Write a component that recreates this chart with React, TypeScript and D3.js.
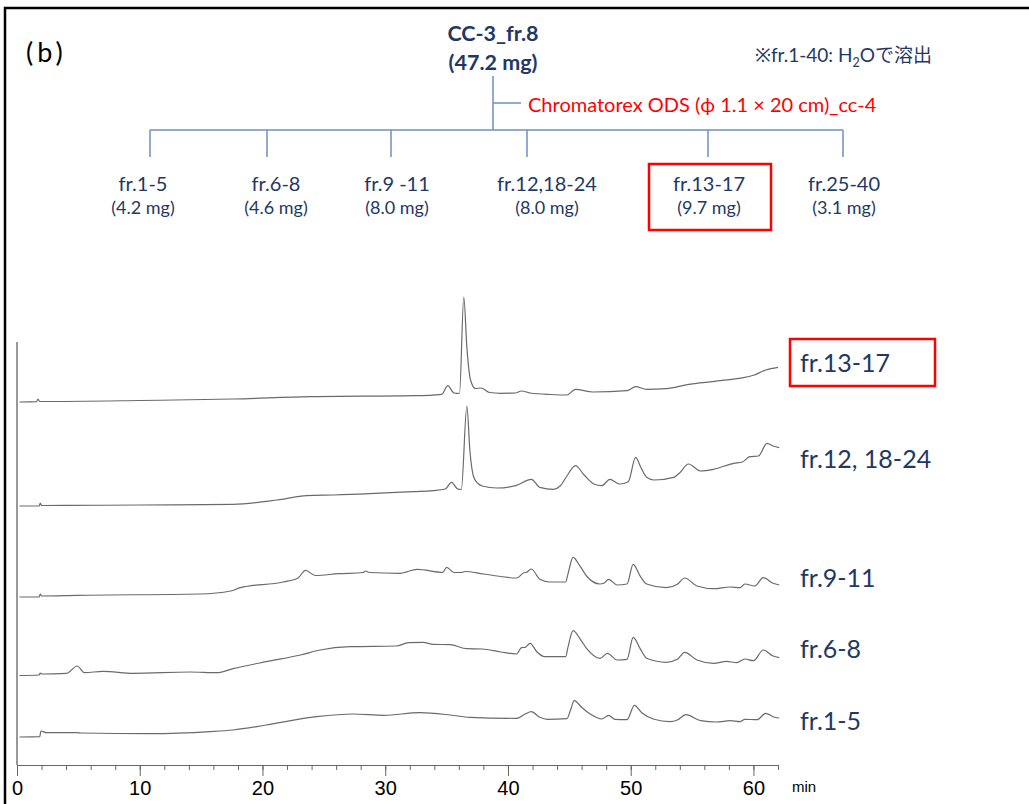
import React, { useRef, useEffect } from "react";
import * as d3 from "d3";

const W = 1029;
const H = 804;

// retention time (min) vs detector signal, relative to each trace's own baseline
const fr13_17: [number, number][] = [
  [0.2, 0], [1.6, 0.3], [1.7, 3], [1.85, 0.5], [10, 1.5], [17.6, 3], [23.9, 5.3], [32.3, 6.3],
  [34.6, 7.7], [35.1, 16.3], [35.6, 9], [36.05, 8.5], [36.4, 105], [36.65, 55], [36.95, 22],
  [37.35, 13.5], [37.8, 14], [38.5, 9.5], [39.4, 8.7], [40.6, 9], [41.1, 11], [41.8, 9],
  [43.5, 7.5], [44.8, 7], [45.5, 12.7], [46.9, 10], [49.7, 11.3], [50.4, 15.3], [51.3, 12.7],
  [52.9, 13.3], [54.6, 17.3], [57.3, 21.3], [60, 26.7], [61, 32], [62, 34.7],
];
const fr12_18_24: [number, number][] = [
  [0.2, 0], [1.8, 0], [1.9, 3], [2.0, 0.5], [10, 1], [17.6, 1.7], [21.2, 6], [23.6, 10.3],
  [25.8, 11], [32.3, 14.3], [33.9, 15.3], [34.9, 17], [35.4, 23.7], [35.9, 17], [36.2, 16.5],
  [36.65, 100], [36.9, 55], [37.2, 29.3], [37.6, 22], [37.9, 20], [39.1, 18], [40.7, 20.7],
  [41.9, 26.7], [42.6, 18.7], [43.7, 16.7], [44.25, 20], [44.8, 30], [45.5, 40.3], [46.2, 31],
  [47.0, 22], [47.65, 20.3], [48.3, 26.7], [49.1, 22], [49.8, 24.3], [50.4, 48.7], [50.8, 39.3],
  [51.3, 28.7], [51.9, 26], [53.5, 28.7], [54.0, 33.3], [54.7, 42], [55.7, 35], [56.75, 36.7],
  [58.4, 42.7], [59.1, 44], [59.7, 49.3], [60.4, 50], [61.1, 62.7], [61.6, 60], [62.1, 58.3],
];
const fr9_11: [number, number][] = [
  [0.2, 0], [1.8, 0], [1.9, 3], [2.0, 1], [4.9, 1.7], [14.9, 3], [17.4, 6], [18.2, 9.3],
  [21.7, 15], [22.9, 19], [23.5, 26.7], [24.3, 21.5], [26.2, 23.3], [28.2, 24.5], [28.4, 26],
  [28.7, 24.5], [31.2, 23.7], [32.6, 27.7], [34.7, 24.7], [35.0, 29.7], [35.6, 24.5], [36.2, 24.5],
  [36.5, 25.5], [38, 23], [40.7, 19], [41.3, 24.3], [41.5, 24.7], [41.9, 28], [42.6, 17.7],
  [43.4, 15], [44.7, 15], [44.9, 23.7], [45.3, 39.7], [45.9, 30.3], [46.4, 21], [47.5, 13],
  [47.8, 13.7], [48.2, 17.7], [48.9, 12], [49.7, 13], [50.2, 32.7], [50.8, 20.3], [51.3, 13],
  [52.9, 9.3], [53.8, 12.7], [54.4, 19], [55.4, 11], [56.75, 8.3], [58.1, 10], [58.9, 9.3],
  [59.3, 13], [60.1, 11], [60.8, 19.3], [61.6, 13.7], [62.1, 12],
];
const fr6_8: [number, number][] = [
  [0.2, 0.5], [1.8, 1], [1.9, 3], [2.0, 2], [4.05, 2.7], [4.9, 10], [5.5, 3.3], [7.0, 4.7],
  [9.5, 2.7], [14.1, 4], [16.3, 3.3], [17.6, 7.3], [20.3, 14.3], [23.1, 21], [24.7, 26],
  [27.1, 29.3], [30.9, 30], [31.9, 33.3], [33.1, 33.7], [33.9, 31.7], [35.3, 31.3], [36.65, 27.3],
  [37.9, 27], [39.4, 24], [40.7, 22], [41.1, 28.3], [41.4, 28.7], [41.8, 32.7], [42.35, 24.3],
  [43.0, 19.3], [44.7, 19.3], [44.9, 29.3], [45.3, 45.3], [45.9, 36.7], [46.4, 27.7], [47.5, 17.7],
  [48.1, 22.7], [48.9, 16], [49.7, 16.7], [50.2, 38.7], [50.8, 26.7], [51.3, 17.7], [52.9, 13.7],
  [53.8, 16.7], [54.4, 23.7], [55.4, 16], [56.75, 12.7], [57.8, 14.7], [58.65, 13.3], [59.3, 17],
  [60.0, 15.3], [60.8, 26], [61.6, 20], [62.1, 18.3],
];
const fr1_5: [number, number][] = [
  [0.2, 0], [1.85, 0.3], [1.95, 6], [2.4, 4.3], [4.9, 4.3], [5.2, 4], [10.8, 3.3], [15.7, 5.3],
  [17.6, 7], [20.3, 12], [24.4, 20.3], [27.4, 23], [29.9, 21.7], [32.8, 24.3], [35.3, 22],
  [36.9, 19.7], [40.7, 18.7], [41.4, 23], [41.9, 25.3], [42.6, 19.7], [43.2, 17.7], [44.8, 18.3],
  [45.1, 27], [45.4, 36.3], [46.0, 29.7], [46.7, 23], [47.65, 18], [48.2, 21.7], [48.7, 17.7],
  [49.7, 17.3], [50.3, 31.7], [50.9, 24.3], [51.9, 17.7], [53.2, 15.3], [53.8, 17], [54.5, 22.3],
  [55.7, 16.3], [57.0, 15], [58.1, 16.3], [58.9, 15.3], [59.3, 17.7], [60.3, 17.3], [61.0, 23.7],
  [61.6, 20.3], [62.1, 19],
];

const traceNames = ["fr.13-17", "fr.12, 18-24", "fr.9-11", "fr.6-8", "fr.1-5"];
const traceOffsets = [363, 259, 168, 89, 28];
const traces = [fr13_17, fr12_18_24, fr9_11, fr6_8, fr1_5];

const majorTicks = [0, 10, 20, 30, 40, 50, 60];
const minorTicks = d3.range(2, 63, 2);

const parentName = "CC-3_fr.8";
const parentMass = "(47.2 mg)";
const columnText = "Chromatorex ODS (\u03d5 1.1 \u00d7 20 cm)_cc-4";
const fractions = ["fr.1-5", "fr.6-8", "fr.9 -11", "fr.12,18-24", "fr.13-17", "fr.25-40"];
const fractionMass = ["(4.2 mg)", "(4.6 mg)", "(8.0 mg)", "(8.0 mg)", "(9.7 mg)", "(3.1 mg)"];

// layout
const branchX = [150, 267, 391, 527, 708, 843];
const labelX = [143, 276, 397, 547, 709, 844];
const traceLabelY = [372, 468, 587, 658, 730];
const navy = "#1F3864";
const treeLine = "#6F8FC2";
const font = "Lato, 'Noto Sans', 'Noto Sans CJK JP', sans-serif";

function App() {
  const axisRef = useRef<SVGGElement>(null);

  const x = d3.scaleLinear().domain([0, 62]).range([17, 778]);
  const y = d3.scaleLinear().domain([0, 423]).range([765, 342]);

  useEffect(() => {
    const g = d3.select(axisRef.current);
    g.selectAll("*").remove();

    const minor = g.append("g").call(
      d3.axisBottom(x).tickValues(minorTicks).tickSize(5).tickSizeOuter(0).tickFormat(() => "")
    );
    minor.select(".domain").remove();
    minor.selectAll("line").attr("stroke", "#666");

    const major = g.append("g").call(
      d3.axisBottom(x).tickValues(majorTicks).tickSize(11).tickSizeOuter(0).tickPadding(5)
    );
    major.select(".domain").attr("stroke", "#666");
    major.selectAll("line").attr("stroke", "#666");
    major
      .selectAll("text")
      .attr("fill", "#000")
      .style("font-size", "20px")
      .style("font-family", "'Liberation Sans', Arial, sans-serif");
  }, []);

  const line = (offset: number) =>
    d3
      .line<[number, number]>()
      .x(d => x(d[0]))
      .y(d => y(d[1] + offset))
      .curve(d3.curveMonotoneX);

  return (
    <svg width={W} height={H} style={{ position: "absolute", left: 0, top: 0, display: "block" }}>
      <rect x={0} y={0} width={W} height={H} fill="#fff" />
      <rect x={5} y={8} width={W + 20} height={H + 20} fill="none" stroke="#000" strokeWidth={2.5} />

      <text x={26} y={62} fontSize={27} fontFamily={font} letterSpacing={4} fill="#000">(b)</text>

      {/* fractionation tree */}
      <g fontFamily={font} fill={navy} textAnchor="middle">
        <text x={493} y={41} fontSize={21.5} fontWeight="bold">{parentName}</text>
        <text x={493} y={70} fontSize={21.5} fontWeight="bold">{parentMass}</text>
        <text x={755} y={62} fontSize={19} textAnchor="start">
          {"\u203bfr.1-40: H"}
          <tspan fontSize={12.5} dy={5}>2</tspan>
          <tspan dy={-5}>{"Oで溶出"}</tspan>
        </text>
      </g>
      <g stroke={treeLine} strokeWidth={1.5} fill="none">
        <line x1={493} x2={493} y1={76} y2={130} />
        <line x1={493} x2={521} y1={103} y2={103} />
        <line x1={branchX[0]} x2={branchX[branchX.length - 1]} y1={130} y2={130} />
        {branchX.map((bx, i) => (
          <line key={i} x1={bx} x2={bx} y1={130} y2={157} />
        ))}
      </g>
      <text x={528} y={112} fontSize={20} fontFamily={font} fill="#FF0000">{columnText}</text>
      <g fontFamily={font} fill={navy} textAnchor="middle">
        {fractions.map((f, i) => (
          <g key={f}>
            <text x={labelX[i]} y={191} fontSize={20}>{f}</text>
            <text x={labelX[i]} y={214} fontSize={18}>{fractionMass[i]}</text>
          </g>
        ))}
      </g>
      <rect x={649} y={164} width={122} height={66} fill="none" stroke="#FF0000" strokeWidth={2.5} />

      {/* chromatograms */}
      <line x1={x(0)} x2={x(0)} y1={y(423)} y2={y(0)} stroke="#777" strokeWidth={1.5} />
      <g fill="none" stroke="#6a6a6a" strokeWidth={1.2}>
        {traces.map((t, i) => (
          <path key={i} d={line(traceOffsets[i])(t) || ""} />
        ))}
      </g>
      <g ref={axisRef} transform={`translate(0,${y(0)})`} />
      <text x={792} y={792} fontSize={15} fontFamily="'Liberation Sans', Arial, sans-serif" fill="#000">min</text>

      <g fontFamily={font} fill={navy} fontSize={25}>
        {traceNames.map((n, i) => (
          <text key={n} x={800} y={traceLabelY[i]}>{n}</text>
        ))}
      </g>
      <rect x={790} y={339} width={145} height={47} fill="none" stroke="#FF0000" strokeWidth={2.5} />
    </svg>
  );
}

export default App;
